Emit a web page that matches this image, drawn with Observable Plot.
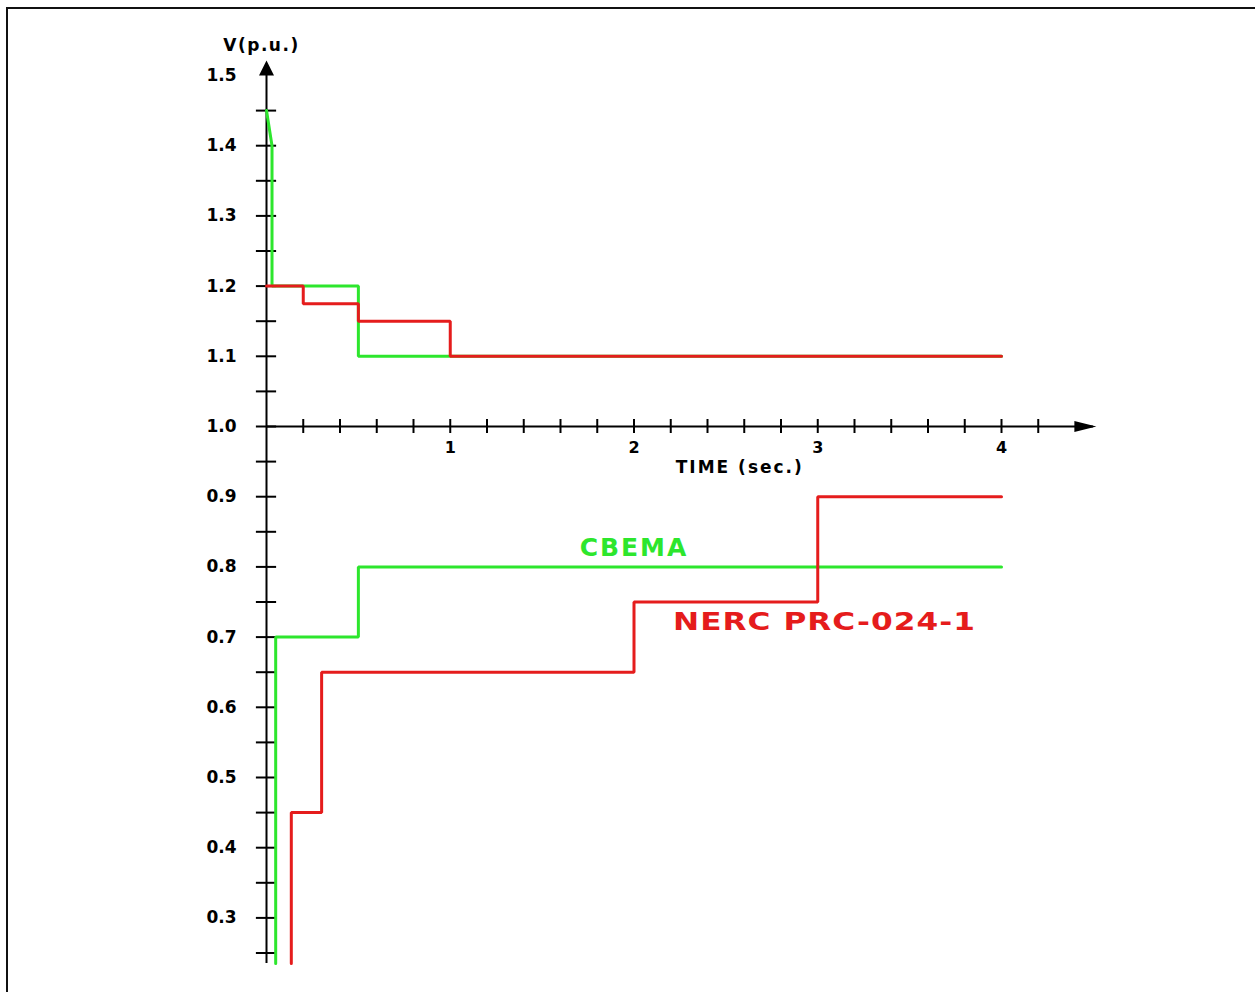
<!DOCTYPE html>
<html>
<head>
<meta charset="utf-8">
<script src="https://cdn.jsdelivr.net/npm/d3@7"></script>
<script src="https://cdn.jsdelivr.net/npm/@observablehq/plot@0.6"></script>
<style>
  html, body { margin: 0; padding: 0; background: #fff; overflow: hidden; }
  #wrap { position: relative; width: 1255px; height: 992px; }
  #frame { position: absolute; left: 6px; top: 7px; width: 1300px; height: 1100px;
           border-top: 2px solid #111; border-left: 2px solid #111; pointer-events: none; }
</style>
</head>
<body>
<div id="wrap"><div id="frame"></div></div>
<script>
// ---- data ----
const cbemaHighT = [0, 0.03, 0.03, 0.5, 0.5, 4];
const cbemaHighV = [1.45, 1.4, 1.2, 1.2, 1.1, 1.1];
const cbemaLowT  = [0.05, 0.05, 0.5, 0.5, 4];
const cbemaLowV  = [0.235, 0.7, 0.7, 0.8, 0.8];
const nercHighT  = [0, 0.2, 0.2, 0.5, 0.5, 1, 1, 4];
const nercHighV  = [1.2, 1.2, 1.175, 1.175, 1.15, 1.15, 1.1, 1.1];
const nercLowT   = [0.135, 0.135, 0.3, 0.3, 2, 2, 3, 3, 4];
const nercLowV   = [0.235, 0.45, 0.45, 0.65, 0.65, 0.75, 0.75, 0.9, 0.9];

const xTickValues  = d3.range(0.2, 4.21, 0.2);
const xTickLabels  = [1, 2, 3, 4];
const yTickValues  = d3.range(0.25, 1.451, 0.05);
const yTickLabels  = [0.3, 0.4, 0.5, 0.6, 0.7, 0.8, 0.9, 1.0, 1.1, 1.2, 1.3, 1.4, 1.5];
const seriesNames  = ["CBEMA", "NERC PRC-024-1"];
const xAxisTitle   = "TIME (sec.)";
const yAxisTitle   = "V(p.u.)";

const GREEN = "#2de62d";
const RED = "#e51c1c";
const toPts = (T, V) => T.map((t, i) => ({t, v: V[i]}));

const arrowUp = {draw(c) { c.moveTo(0, 0); c.lineTo(-7.5, 15); c.lineTo(7.5, 15); c.closePath(); }};
const arrowRight = {draw(c) { c.moveTo(0, 0); c.lineTo(-22, -5.5); c.lineTo(-22, 5.5); c.closePath(); }};

const font = "DejaVu Sans";
const fmt = d3.format(".1f");

const svg = Plot.plot({
  width: 1255,
  height: 992,
  style: {background: "transparent", overflow: "visible"},
  x: {domain: [0, 4], range: [266, 1001], axis: null},
  y: {domain: [0.2, 1.5], range: [987.6, 75], axis: null},
  marks: [
    // axes
    Plot.ruleY([1], {x1: 0, x2: 4.5, stroke: "#000", strokeWidth: 2}),
    Plot.ruleX([0], {y1: 0.235, y2: 1.5, stroke: "#000", strokeWidth: 2}),
    Plot.ruleX(xTickValues, {x: d => d, y1: 0.99, y2: 1.01, stroke: "#000", strokeWidth: 2}),
    Plot.ruleY(yTickValues, {y: d => d, x1: -0.055, x2: 0.055, stroke: "#000", strokeWidth: 2}),
    Plot.dot([0], {x: 0, y: 1.5, dy: -15, symbol: arrowUp, fill: "#000", stroke: null}),
    Plot.dot([0], {x: 4.5, y: 1, dx: 3, symbol: arrowRight, fill: "#000", stroke: null}),
    Plot.text(yTickLabels, {x: 0, y: d => d, text: d => fmt(d), dx: -30, textAnchor: "end",
      fontFamily: font, fontWeight: "bold", fontSize: 17, fill: "#000"}),
    Plot.text(xTickLabels, {x: d => d, y: 1, text: d => String(d), dy: 21,
      fontFamily: font, fontWeight: "bold", fontSize: 16, fill: "#000"}),
    Plot.text([yAxisTitle], {x: 0, y: 1.5, text: d => d, dy: -30, dx: -5,
      fontFamily: font, fontWeight: "bold", fontSize: 17, fill: "#000"}),
    Plot.text([xAxisTitle], {x: 2.2, y: 1, text: d => d, dx: 5, dy: 41, textAnchor: "start",
      fontFamily: font, fontWeight: "bold", fontSize: 17, fill: "#000"}),
    // series
    Plot.line(toPts(cbemaHighT, cbemaHighV), {x: "t", y: "v", stroke: GREEN, strokeWidth: 3, strokeLinejoin: "miter"}),
    Plot.line(toPts(cbemaLowT, cbemaLowV), {x: "t", y: "v", stroke: GREEN, strokeWidth: 3, strokeLinejoin: "miter"}),
    Plot.line(toPts(nercHighT, nercHighV), {x: "t", y: "v", stroke: RED, strokeWidth: 3, strokeLinejoin: "miter"}),
    Plot.line(toPts(nercLowT, nercLowV), {x: "t", y: "v", stroke: RED, strokeWidth: 3, strokeLinejoin: "miter"}),
    // series labels
    Plot.text([seriesNames[0]], {x: 2, y: 0.8, text: d => d, dy: -19,
      fontFamily: font, fontWeight: "bold", fontSize: 25, fill: GREEN}),
    Plot.text([seriesNames[1]], {x: 2, y: 0.75, text: d => d, dx: 39, dy: 20, textAnchor: "start",
      fontFamily: font, fontWeight: "bold", fontSize: 24, fill: RED})
  ]
});

function stretch(el, sx) {
  const tr = el.getAttribute("transform");
  if (tr) {
    el.setAttribute("transform", tr + ` scale(${sx},1)`);
  } else {
    const x = +el.getAttribute("x") || 0, y = +el.getAttribute("y") || 0;
    el.removeAttribute("x"); el.removeAttribute("y");
    el.setAttribute("transform", `translate(${x},${y}) scale(${sx},1)`);
  }
}

d3.select(svg).selectAll("text").each(function() {
  const t = this.textContent;
  if (t === seriesNames[0]) d3.select(this).attr("letter-spacing", 2);
  else if (t === seriesNames[1]) { d3.select(this).attr("letter-spacing", 0.8); stretch(this, 1.3); }
  else if (t === xAxisTitle) d3.select(this).attr("letter-spacing", 2);
  else if (t === yAxisTitle) d3.select(this).attr("letter-spacing", 1.5);
});

document.getElementById("wrap").prepend(svg);
</script>
</body>
</html>
